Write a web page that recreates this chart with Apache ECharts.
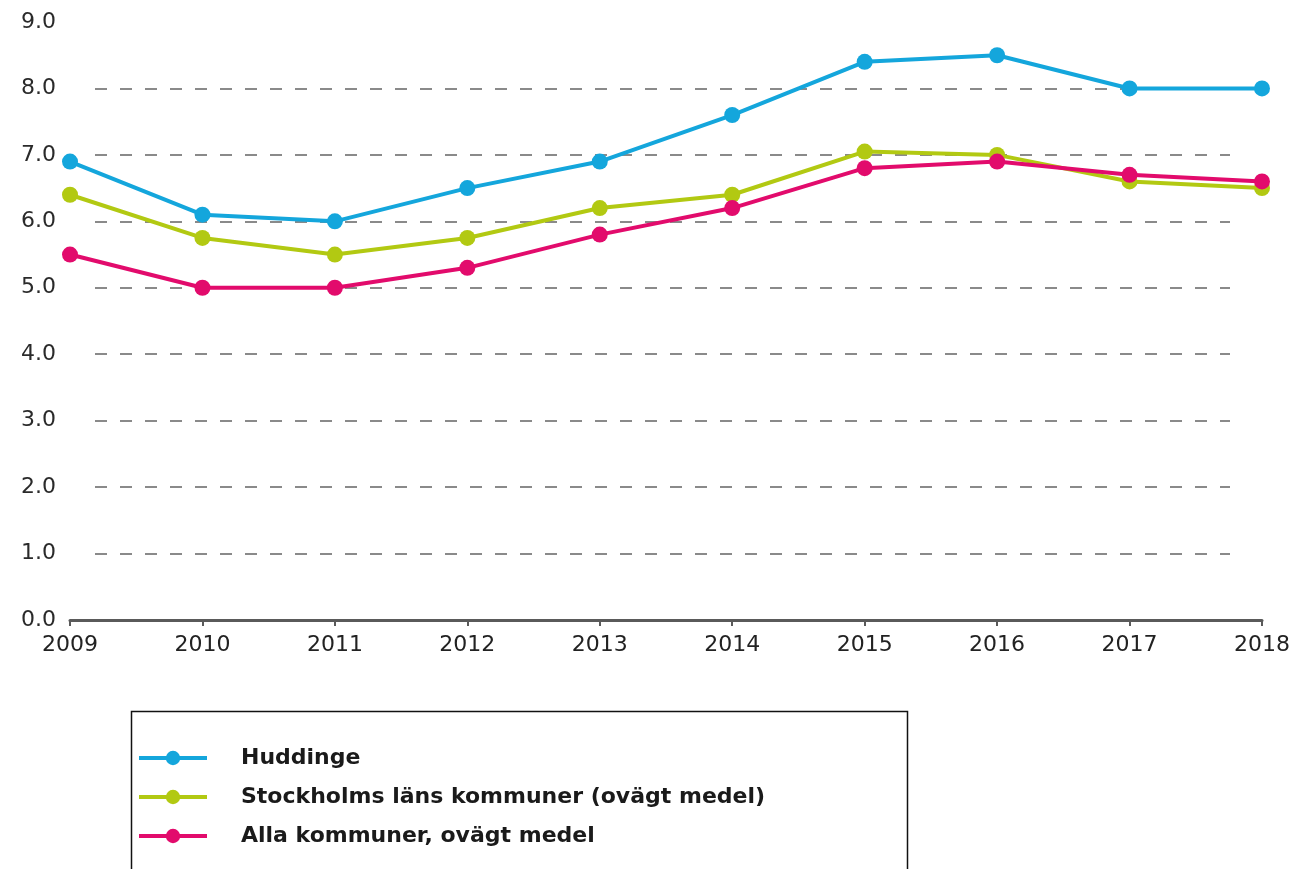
<!DOCTYPE html>
<html>
<head>
<meta charset="utf-8">
<script src="https://cdn.jsdelivr.net/npm/echarts@6/dist/echarts.min.js"></script>
<style>
  html, body { margin: 0; padding: 0; background: #fff; }
  #chart { width: 1297px; height: 869px; }
</style>
</head>
<body>
<div id="chart"></div>
<script>
// data
const years = ['2009', '2010', '2011', '2012', '2013', '2014', '2015', '2016', '2017', '2018'];
const huddinge = [6.9, 6.1, 6.0, 6.5, 6.9, 7.6, 8.4, 8.5, 8.0, 8.0];
const stockholm = [6.4, 5.75, 5.5, 5.75, 6.2, 6.4, 7.05, 7.0, 6.6, 6.5];
const alla = [5.5, 5.0, 5.0, 5.3, 5.8, 6.2, 6.8, 6.9, 6.7, 6.6];
const seriesNames = ['Huddinge', 'Stockholms läns kommuner (ovägt medel)', 'Alla kommuner, ovägt medel'];
const colors = ['#14a6dc', '#b2c912', '#e20b6c'];

const chart = echarts.init(document.getElementById('chart'));

const makeLine = (name, data, color) => ({
    name: name,
    type: 'line',
    xAxisIndex: 0,
    yAxisIndex: 0,
    data: data,
    symbol: 'circle',
    symbolSize: 16,
    lineStyle: {color: color, width: 4},
    itemStyle: {color: color},
    emphasis: {disabled: true},
    z: 3
});

const options = {
    animation: false,
    textStyle: {fontFamily: 'DejaVu Sans'},
    grid: [
        {left: 70, right: 35, top: 22, bottom: 249},
        // only used to draw the shorter dashed grid lines
        {left: 95, right: 67, top: 88.4, bottom: 249}
    ],
    xAxis: [
        {
            gridIndex: 0,
            type: 'category',
            data: years,
            boundaryGap: false,
            axisLine: {lineStyle: {color: '#5a5a5a', width: 3}},
            axisTick: {show: true, length: 6, lineStyle: {color: '#5a5a5a', width: 2}},
            axisLabel: {color: '#222', fontSize: 22, margin: 14}
        },
        {gridIndex: 1, type: 'value', show: false}
    ],
    yAxis: [
        {
            gridIndex: 0,
            type: 'value',
            min: 0,
            max: 9,
            interval: 1,
            axisLine: {show: false},
            axisTick: {show: false},
            splitLine: {show: false},
            axisLabel: {
                color: '#2a2a2a',
                fontSize: 22,
                margin: 14,
                formatter: v => v.toFixed(1)
            }
        },
        {
            gridIndex: 1,
            type: 'value',
            min: 0,
            max: 8,
            interval: 1,
            axisLine: {show: false},
            axisTick: {show: false},
            axisLabel: {show: false},
            splitLine: {lineStyle: {color: '#8a8a8a', width: 2, type: [12, 13]}}
        }
    ],
    legend: {
        orient: 'vertical',
        left: 137,
        top: 746,
        padding: 0,
        itemWidth: 68,
        itemHeight: 18,
        itemGap: 15,
        data: seriesNames,
        lineStyle: {width: 4},
        textStyle: {
            color: '#1a1a1a',
            fontSize: 22,
            fontWeight: 'bold',
            lineHeight: 24,
            padding: [0, 0, 0, 29]
        }
    },
    graphic: [
        {
            type: 'rect',
            left: 129,
            top: 709,
            shape: {width: 776, height: 200},
            style: {fill: 'none', stroke: '#111', lineWidth: 1.5},
            silent: true
        }
    ],
    series: [
        makeLine(seriesNames[0], huddinge, colors[0]),
        makeLine(seriesNames[1], stockholm, colors[1]),
        makeLine(seriesNames[2], alla, colors[2])
    ]
};

chart.setOption(options);
</script>
</body>
</html>
